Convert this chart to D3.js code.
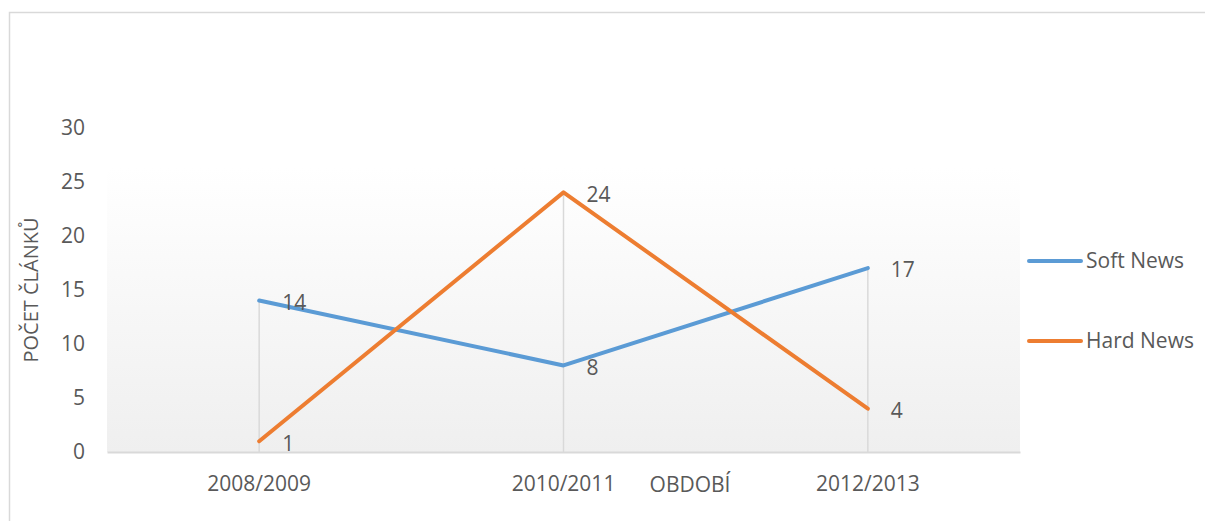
<!DOCTYPE html>
<html>
<head>
<meta charset="utf-8">
<script src="https://cdn.jsdelivr.net/npm/d3@7"></script>
<style>
  body { margin: 0; background: #fff; }
  text { font-family: "Open Sans", sans-serif; fill: #595959; }
</style>
</head>
<body>
<div id="chart"></div>
<script>
const width = 1205;
const height = 521;
const plot = { left: 107, right: 1020, top: 168, bottom: 452 };

const periods = ["2008/2009", "2010/2011", "2012/2013"];
const softNews = [14, 8, 17];
const hardNews = [1, 24, 4];
const yTicks = [0, 5, 10, 15, 20, 25, 30];

const series = [
    { name: "Soft News", values: softNews, color: "#5B9BD5" },
    { name: "Hard News", values: hardNews, color: "#ED7D31" },
];

const svg = d3.select("#chart").append("svg")
    .attr("width", width)
    .attr("height", height);

// outer frame
svg.append("rect")
    .attr("x", 9.5).attr("y", 12.5)
    .attr("width", width + 10).attr("height", height + 10)
    .attr("fill", "none")
    .attr("stroke", "#d9d9d9")
    .attr("stroke-width", 1.5);

const defs = svg.append("defs");
const grad = defs.append("linearGradient")
    .attr("id", "plotbg")
    .attr("x1", 0).attr("y1", 0).attr("x2", 0).attr("y2", 1);
grad.append("stop").attr("offset", "0%").attr("stop-color", "#ffffff");
grad.append("stop").attr("offset", "100%").attr("stop-color", "#efefef");

svg.append("rect")
    .attr("x", plot.left).attr("y", plot.top)
    .attr("width", plot.right - plot.left)
    .attr("height", plot.bottom - plot.top)
    .attr("fill", "url(#plotbg)");

const xScale = d3.scaleBand()
    .domain(periods)
    .range([plot.left, plot.right]);
const xPos = (p) => xScale(p) + xScale.bandwidth() / 2;

const yScale = d3.scaleLinear()
    .domain([0, 30])
    .range([plot.bottom, 127.5]);

// y axis labels
const yAxis = svg.append("g")
    .attr("transform", "translate(85,0)")
    .call(d3.axisLeft(yScale).tickValues(yTicks).tickSize(0).tickPadding(0));
yAxis.select(".domain").remove();
yAxis.selectAll("text")
    .attr("fill", "#595959")
    .style("font-family", "'Open Sans', sans-serif")
    .style("font-size", "21px");

// drop lines
svg.selectAll(".drop")
    .data(periods)
    .join("line")
    .attr("class", "drop")
    .attr("x1", (d) => xPos(d))
    .attr("x2", (d) => xPos(d))
    .attr("y1", (d, i) => yScale(d3.max(series, (s) => s.values[i])))
    .attr("y2", yScale(0))
    .attr("stroke", "#d9d9d9")
    .attr("stroke-width", 1.5);

// x axis
const xAxis = svg.append("g")
    .attr("transform", `translate(0,${plot.bottom})`)
    .call(d3.axisBottom(xScale).tickSize(0).tickPadding(24).tickSizeOuter(0));
xAxis.select(".domain")
    .attr("stroke", "#d9d9d9")
    .attr("stroke-width", 2);
xAxis.selectAll("text")
    .attr("fill", "#595959")
    .style("font-family", "'Open Sans', sans-serif")
    .style("font-size", "21px");

// lines
const line = d3.line()
    .x((d, i) => xPos(periods[i]))
    .y((d) => yScale(d));

svg.selectAll(".series")
    .data(series)
    .join("path")
    .attr("class", "series")
    .attr("d", (s) => line(s.values))
    .attr("fill", "none")
    .attr("stroke", (s) => s.color)
    .attr("stroke-width", 4)
    .attr("stroke-linecap", "round")
    .attr("stroke-linejoin", "round");

// data labels
series.forEach((s) => {
    svg.selectAll(null)
        .data(s.values)
        .join("text")
        .attr("x", (d, i) => xPos(periods[i]) + 23)
        .attr("y", (d) => yScale(d) + 2)
        .attr("dy", "0.35em")
        .style("font-size", "21px")
        .text((d) => d);
});

// axis titles
svg.append("text")
    .attr("transform", "translate(31,290) rotate(-90)")
    .attr("text-anchor", "middle")
    .attr("dy", "0.35em")
    .style("font-size", "20px")
    .text("POČET ČLÁNKŮ");

svg.append("text")
    .attr("x", 690)
    .attr("y", 485)
    .attr("text-anchor", "middle")
    .attr("dy", "0.35em")
    .style("font-size", "21px")
    .text("OBDOBÍ");

// legend
const legend = svg.selectAll(".legend")
    .data(series)
    .join("g")
    .attr("class", "legend")
    .attr("transform", (d, i) => `translate(1029,${261 + i * 80})`);
legend.append("line")
    .attr("x1", 0).attr("x2", 52)
    .attr("stroke", (d) => d.color)
    .attr("stroke-width", 4)
    .attr("stroke-linecap", "round");
legend.append("text")
    .attr("x", 57)
    .attr("dy", "0.35em")
    .style("font-size", "21px")
    .text((d) => d.name);
</script>
</body>
</html>
